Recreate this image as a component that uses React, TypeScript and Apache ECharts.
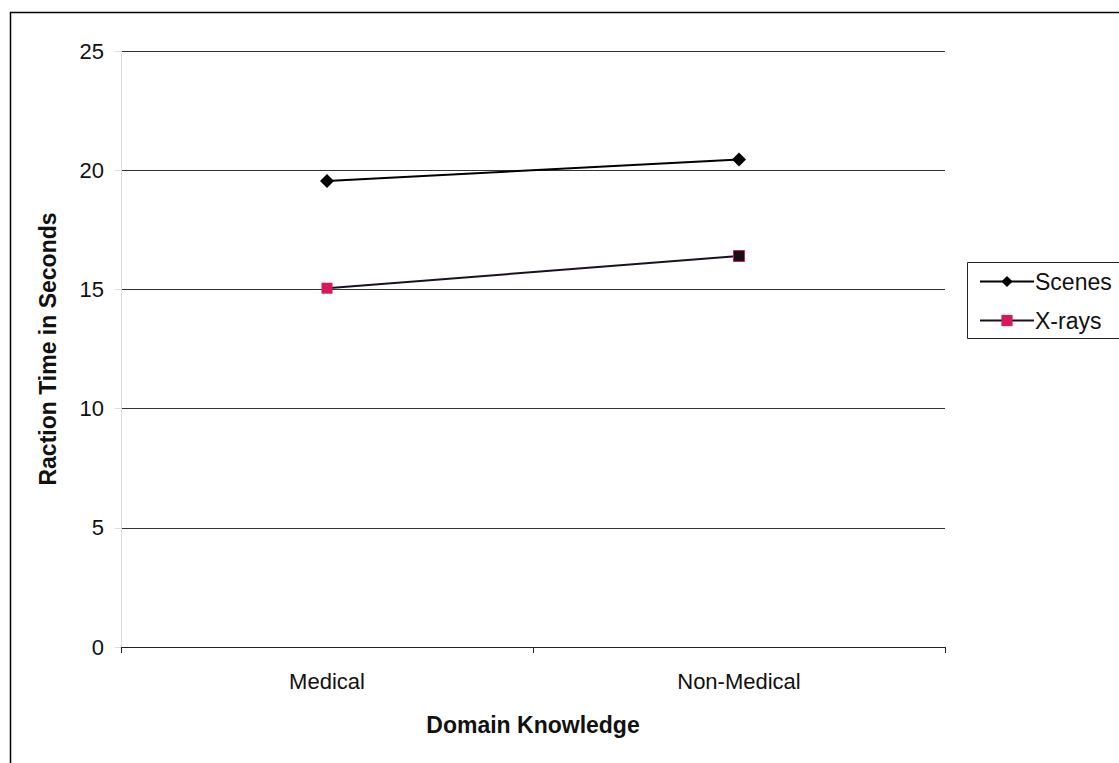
import React, { useEffect, useRef } from "react";
import * as echarts from "echarts";

const categories = ["Medical", "Non-Medical"];
const scenes = [19.55, 20.45];
const xrays = [15.05, 16.4];
const yTicks = { min: 0, max: 25, interval: 5 };

const FONT = "'Liberation Sans', Arial, sans-serif";
const PINK = "#d6195a";

export default function App() {
  const ref = useRef<HTMLDivElement>(null);

  useEffect(() => {
    if (!ref.current) return;
    const chart = echarts.init(ref.current, null, { renderer: "svg" });
    chart.setOption({
      animation: false,
      backgroundColor: "#fff",
      textStyle: { fontFamily: FONT },
      grid: { left: 121, right: 1119 - 945, top: 51, bottom: 763 - 647 },
      xAxis: {
        type: "category",
        data: categories,
        boundaryGap: true,
        axisLine: { lineStyle: { color: "#222", width: 1 } },
        axisTick: { show: true, length: 6, lineStyle: { color: "#222" } },
        axisLabel: { color: "#111", fontSize: 22, margin: 23, fontFamily: FONT },
        name: "Domain Knowledge",
        nameLocation: "middle",
        nameGap: 66,
        nameTextStyle: { color: "#111", fontSize: 23, fontWeight: "bold", fontFamily: FONT },
      },
      yAxis: {
        type: "value",
        min: yTicks.min,
        max: yTicks.max,
        interval: yTicks.interval,
        axisLine: { show: true, lineStyle: { color: "#ddd", width: 1 } },
        axisTick: { show: true, length: 6, lineStyle: { color: "#ddd" } },
        axisLabel: { color: "#111", fontSize: 22, margin: 17, fontFamily: FONT },
        splitLine: { lineStyle: { color: "#333", width: 1 } },
        name: "Raction Time in Seconds",
        nameLocation: "middle",
        nameGap: 62,
        nameTextStyle: { color: "#111", fontSize: 23, fontWeight: "bold", fontFamily: FONT },
      },
      legend: {
        orient: "vertical",
        left: 974,
        top: 265,
        itemGap: 16,
        itemWidth: 54,
        itemHeight: 14,
        textStyle: { color: "#111", fontSize: 23, fontFamily: FONT, padding: [0, 0, 0, -4] },
        data: ["Scenes", "X-rays"],
      },
      graphic: [
        {
          type: "rect",
          shape: { x: 10.5, y: 12.5, width: 1130, height: 780 },
          style: { fill: "none", stroke: "#000", lineWidth: 1.5 },
          silent: true,
        },
        {
          type: "rect",
          shape: { x: 967.5, y: 262.5, width: 170, height: 76 },
          style: { fill: "none", stroke: "#222", lineWidth: 1 },
          silent: true,
        },
      ],
      series: [
        {
          name: "Scenes",
          type: "line",
          data: scenes,
          symbol: "diamond",
          symbolSize: 14,
          color: "#000",
          lineStyle: { color: "#000", width: 2 },
          itemStyle: { color: "#000" },
        },
        {
          name: "X-rays",
          type: "line",
          data: [
            xrays[0],
            { value: xrays[1], itemStyle: { color: "#111", borderColor: PINK, borderWidth: 1 } },
          ],
          symbol: "rect",
          symbolSize: 11,
          color: PINK,
          lineStyle: { color: "#1a1020", width: 2 },
          itemStyle: { color: PINK },
        },
      ],
    });
    return () => chart.dispose();
  }, []);

  return (
    <div
      ref={ref}
      style={{ position: "fixed", left: 0, top: 0, width: 1119, height: 763 }}
    />
  );
}
